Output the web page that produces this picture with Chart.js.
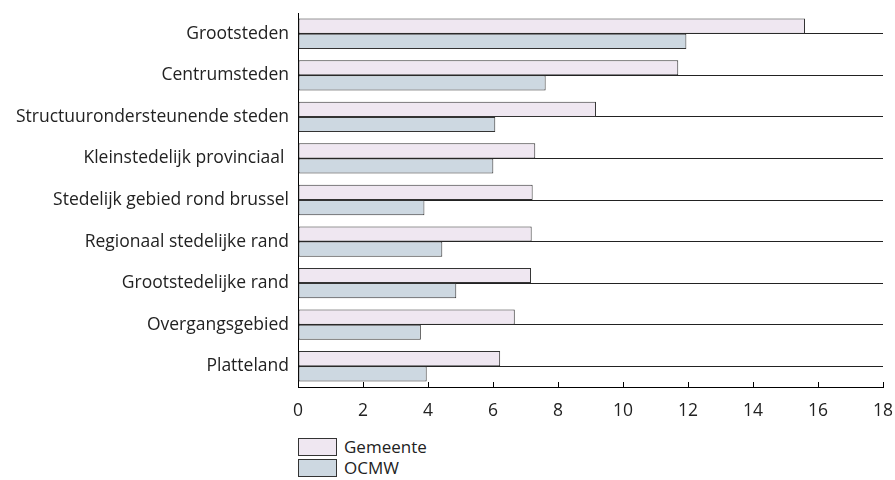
<!DOCTYPE html>
<html>
<head>
<meta charset="utf-8">
<script src="https://cdn.jsdelivr.net/npm/chart.js@4.4.1/dist/chart.umd.min.js"></script>
<style>
  html, body { margin: 0; padding: 0; background: #fff; }
  body { width: 895px; height: 480px; position: relative; overflow: hidden; font-family: "Open Sans", sans-serif; }
  #wrap { position: absolute; left: 0; top: 0; width: 895px; height: 430px; }
  #legend { position: absolute; left: 298px; top: 436px; }
  .leg-item { display: flex; align-items: center; height: 21px; font-size: 17px; color: #222; }
  .leg-box { width: 39px; height: 18px; border: 1px solid #333; margin-right: 7px; box-sizing: border-box; }
</style>
</head>
<body>
<div id="wrap"><canvas id="chart"></canvas></div>
<div id="legend"></div>
<script>
// Categorieen en waarden
const categories = [
  'Grootsteden',
  'Centrumsteden',
  'Structuurondersteunende steden',
  'Kleinstedelijk provinciaal ',
  'Stedelijk gebied rond brussel',
  'Regionaal stedelijke rand',
  'Grootstedelijke rand',
  'Overgangsgebied',
  'Platteland'
];
const gemeente = [15.6, 11.7, 9.17, 7.3, 7.22, 7.19, 7.17, 6.67, 6.22];
const ocmw = [11.95, 7.62, 6.07, 6.01, 3.89, 4.44, 4.87, 3.78, 3.96];
const xTicks = [0, 2, 4, 6, 8, 10, 12, 14, 16, 18];

const series = [
  { label: 'Gemeente', data: gemeente, color: '#efe7f1' },
  { label: 'OCMW', data: ocmw, color: '#cdd8e1' }
];

const font = { family: '"Open Sans", sans-serif', size: 17.5 };

new Chart(document.getElementById('chart'), {
  type: 'bar',
  data: {
    labels: categories,
    datasets: series.map(s => ({
      label: s.label,
      data: s.data,
      backgroundColor: s.color,
      borderColor: '#333',
      borderWidth: 1,
      borderSkipped: false,
      categoryPercentage: 0.73,
      barPercentage: 1
    }))
  },
  options: {
    indexAxis: 'y',
    responsive: true,
    maintainAspectRatio: false,
    animation: false,
    layout: { padding: { top: 13, right: 12, left: 0, bottom: 0 } },
    plugins: { legend: { display: false }, tooltip: { enabled: false } },
    scales: {
      x: {
        min: 0,
        max: 18,
        afterBuildTicks: axis => { axis.ticks = xTicks.map(v => ({ value: v })); },
        afterFit: axis => { axis.height = 43; axis.paddingLeft = 0; axis.paddingRight = 0; },
        grid: { drawOnChartArea: false, color: '#000', tickLength: -5, lineWidth: 1 },
        border: { color: '#000', width: 1 },
        ticks: { color: '#222', font: font, padding: 19, maxRotation: 0 }
      },
      y: {
        afterFit: axis => { axis.width = 298; axis.paddingTop = 0; axis.paddingBottom = 0; },
        grid: { offset: false, drawTicks: false, color: '#222', lineWidth: 1 },
        border: { color: '#000', width: 1 },
        ticks: { color: '#222', font: font, padding: 9 }
      }
    }
  }
});

// Legenda onder de grafiek
const legendEl = document.getElementById('legend');
series.forEach(s => {
  const item = document.createElement('div');
  item.className = 'leg-item';
  item.innerHTML = `<span class="leg-box" style="background:${s.color}"></span><span>${s.label}</span>`;
  legendEl.appendChild(item);
});
</script>
</body>
</html>
